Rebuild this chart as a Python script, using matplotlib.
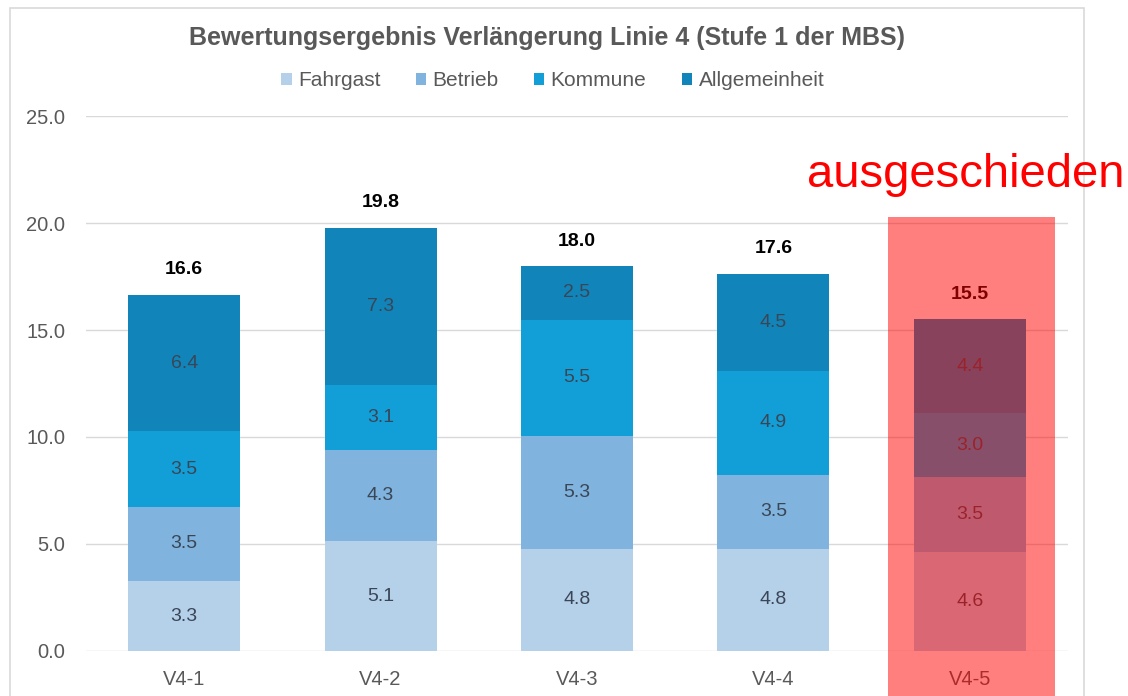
import numpy as np
import matplotlib
matplotlib.use("Agg")
import matplotlib.pyplot as plt
from matplotlib.patches import Rectangle

plt.rcParams['font.family'] = ['Liberation Sans', 'DejaVu Sans']

# Data
categories = ["V4-1", "V4-2", "V4-3", "V4-4", "V4-5"]
series_names = ["Fahrgast", "Betrieb", "Kommune", "Allgemeinheit"]
fahrgast = [3.26, 5.12, 4.77, 4.77, 4.63]
betrieb = [3.48, 4.26, 5.26, 3.47, 3.50]
kommune = [3.52, 3.07, 5.46, 4.86, 2.99]
allgemeinheit = [6.37, 7.33, 2.49, 4.52, 4.38]
y_ticks = [0, 5, 10, 15, 20, 25]

colors = ["#b5d0e9", "#80b3dd", "#129fd8", "#1185ba"]
grey = "#595959"

fig = plt.figure(figsize=(11.28, 6.96), dpi=100)
ax = fig.add_axes([0.0762, 0.0647, 0.8706, 0.7686])

x = np.arange(len(categories))
width = 0.57
bottom = np.zeros(len(categories))
for name, vals, col in zip(series_names, [fahrgast, betrieb, kommune, allgemeinheit], colors):
    vals = np.array(vals)
    ax.bar(x, vals, width, bottom=bottom, color=col, label=name, zorder=3)
    for xi, b, v in zip(x, bottom, vals):
        ax.text(xi, b + v / 2, f"{v:.1f}", ha="center", va="center",
                fontsize=14, color="#3a4656", zorder=4)
    bottom += vals

for xi, total in zip(x, bottom):
    ax.annotate(f"{total:.1f}", (xi, total), xytext=(0, 12), textcoords="offset points",
                ha="center", va="bottom", fontsize=14, fontweight="bold", color="black")

ax.set_xlim(-0.5, len(categories) - 0.5)
ax.set_ylim(0, 25)
ax.set_yticks(y_ticks)
ax.set_yticklabels([f"{t:.1f}" for t in y_ticks])
ax.set_xticks(x)
ax.set_xticklabels(categories)
ax.tick_params(axis="both", length=0, labelsize=14.5, labelcolor=grey)
ax.tick_params(axis="y", pad=15)
ax.tick_params(axis="x", pad=14)
ax.grid(axis="y", color="#d9d9d9", lw=1, zorder=0)
for s in ax.spines.values():
    s.set_visible(False)

fig.text(0.485, 0.946, "Bewertungsergebnis Verlängerung Linie 4 (Stufe 1 der MBS)",
         ha="center", va="center", fontsize=18, fontweight="bold", color=grey)
fig.legend(loc="center", bbox_to_anchor=(0.49, 0.884), ncol=4, frameon=False,
           fontsize=15, labelcolor=grey, handlelength=0.5, handleheight=0.5,
           handletextpad=0.3, columnspacing=1.7)

# chart frame
fig.patches.append(Rectangle((10 / 1128, -0.01), 1074 / 1128, 1 - 8 / 696 + 0.01,
                             transform=fig.transFigure, fill=False,
                             edgecolor="#d9d9d9", lw=1.2, zorder=0))

# red overlay for the excluded variant
fig.patches.append(Rectangle((888 / 1128, 0), 167 / 1128, 1 - 217 / 696,
                             transform=fig.transFigure, facecolor="#ff0000",
                             alpha=0.5, edgecolor="none", zorder=10))
fig.text(0.856, 0.749, "ausgeschieden", ha="center", va="center",
         fontsize=34, color="#ff0000", zorder=11)

fig.savefig("out.png", dpi=100)
